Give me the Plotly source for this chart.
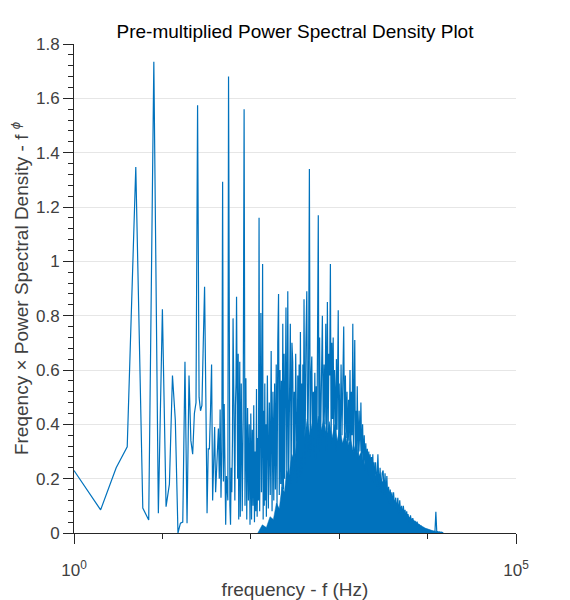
import plotly.graph_objects as go

# pre-multiplied PSD (f in Hz, value = f * phi)
freq_hz = [
    1, 2, 3, 4, 5, 6, 7, 8, 9, 10, 11, 12, 13, 14, 15, 16, 17, 18, 19, 20,
    21, 22, 23, 24, 25, 26, 27, 28, 29, 30, 31, 32, 33, 34, 35, 36, 37, 38, 39, 40,
    41, 42, 43, 44, 45, 46, 47, 48, 49, 50, 51, 52, 53, 54, 55, 56, 57, 58, 59, 60,
    61, 62, 63, 64, 65, 66, 67, 68, 69, 70, 71, 72, 73, 74, 75,
    76, 78, 80, 82, 84, 86, 88, 90, 92, 94, 96, 98,
    100, 102, 104, 106, 108, 110, 112, 114, 116, 118, 120, 122, 124, 126, 128, 130,
    132, 134, 136, 138, 140, 142, 144, 146, 148,
    150, 154, 158, 162, 166, 170, 174, 178, 182, 186, 190, 194, 198, 202, 206, 210,
    214, 218, 222, 226, 230, 234, 238, 242, 246,
    250, 256, 262, 268, 274, 280, 286, 292, 298, 304, 310, 316, 322, 328, 334, 340,
    346, 352, 358, 364, 370, 376, 382, 388, 394,
    400, 410, 420, 430, 440, 450, 460, 470, 480, 490, 500, 510, 520, 530, 540, 550,
    560, 570, 580, 590,
    600, 615, 630, 645, 660, 675, 690, 705, 720, 735, 750, 765, 780, 795, 810, 825,
    840, 855, 870, 885, 900, 915, 930, 945, 960, 975, 990,
    1000, 1025, 1050, 1075, 1100, 1125, 1150, 1175, 1200, 1225, 1250, 1275, 1300,
    1325, 1350, 1375, 1400, 1425, 1450, 1475, 1500, 1525, 1550, 1575,
    1600, 1640, 1680, 1720, 1760, 1800, 1840, 1880, 1920, 1960, 2000, 2040, 2080,
    2120, 2160, 2200, 2240, 2280, 2320, 2360, 2400, 2440, 2480,
    2500, 2580, 2660, 2740, 2820, 2900, 2980, 3060, 3140, 3220, 3300, 3380, 3460,
    3540, 3620, 3700, 3780, 3860, 3940,
    4000, 4120, 4240, 4360, 4480, 4600, 4720, 4840, 4960, 5080, 5200, 5320, 5440,
    5560, 5680, 5800, 5920,
    6000, 6200, 6400, 6600, 6800, 7000, 7200, 7400, 7600, 7800, 8000, 8200, 8400,
    8600, 8800, 9000, 9200, 9400, 9600, 9800,
    10000, 10300, 10600, 10900, 11200, 11500, 11800, 12100, 12400, 12700, 13000,
    13300, 13600, 13900, 14200, 14500, 14800, 15000,
]

psd_premult = [
    0.23, 0.085, 0.24, 0.317, 1.347, 0.092, 0.048, 1.735, 0.073, 0.824, 0.097, 0.18,
    0.58, 0.415, 0.0, 0.036, 0.04, 0.63, 0.036, 0.58,
    0.34, 0.29, 0.44, 0.48, 1.575, 0.5, 0.45, 0.47, 0.7, 0.906, 0.5, 0.073, 0.31, 0.31,
    0.45, 0.62, 0.12, 0.25, 0.39, 0.15,
    0.22, 0.30, 0.385, 0.20, 0.455, 0.13, 0.30, 1.293, 0.19, 0.475, 0.20, 0.03, 0.21,
    0.15, 0.12, 1.68, 0.24, 0.10, 0.03, 0.24,
    0.15, 0.34, 0.79, 0.48, 0.30, 0.12, 0.47, 0.55, 0.87, 0.31, 0.20, 0.66, 0.05, 0.35, 0.63,
    0.06, 0.55, 0.08, 0.42, 1.56, 0.10, 0.57, 0.05, 0.46, 0.12, 0.40, 0.03,
    0.44, 0.05, 0.38, 0.10, 0.47, 0.04, 0.30, 0.08, 0.53, 0.06, 0.35, 0.12, 1.16, 0.08,
    0.42, 0.81, 0.15, 0.36, 0.99, 0.05, 0.45, 0.10, 0.55, 0.12, 0.40,
    0.06, 0.58, 0.09, 0.48, 0.14, 0.67, 0.08, 0.52, 0.12, 0.55, 0.16, 0.62, 0.10, 0.70,
    0.88, 0.14, 0.60, 0.18, 0.56, 0.12, 0.77, 0.16, 0.66, 0.20, 0.58,
    0.83, 0.15, 0.89, 0.20, 0.60, 0.77, 0.18, 0.70, 0.63, 0.22, 0.52, 0.25, 0.66, 0.40,
    0.18, 0.58, 0.24, 0.62, 0.20, 0.74, 0.28, 0.55, 0.22, 0.62, 0.30,
    0.86, 0.25, 0.70, 0.89, 0.30, 0.55, 1.34, 0.28, 0.58, 0.65, 0.30, 0.52, 0.33, 0.59,
    0.27, 0.54, 0.35, 0.62, 1.17, 0.30,
    0.72, 0.32, 0.60, 0.80, 0.35, 0.62, 0.40, 0.77, 0.30, 0.85, 0.38, 0.66, 0.58, 0.99,
    0.33, 0.70, 0.42, 0.72, 0.35, 0.60, 0.52, 0.30, 0.64, 0.38, 0.58, 0.82, 0.34,
    0.55, 0.32, 0.62, 0.36, 0.55, 0.76, 0.33, 0.58, 0.35, 0.52, 0.30, 0.49, 0.34,
    0.60, 0.31, 0.52, 0.36, 0.77, 0.30, 0.55, 0.71, 0.28, 0.45, 0.30,
    0.54, 0.27, 0.45, 0.30, 0.48, 0.26, 0.40, 0.25, 0.36, 0.23, 0.33, 0.24, 0.31,
    0.22, 0.30, 0.21, 0.29, 0.20, 0.28, 0.19, 0.29, 0.20, 0.26,
    0.18, 0.26, 0.17, 0.29, 0.16, 0.24, 0.15, 0.22, 0.23, 0.14, 0.22, 0.13, 0.21, 0.12,
    0.17, 0.11, 0.16, 0.10, 0.15,
    0.10, 0.15, 0.09, 0.13, 0.08, 0.13, 0.07, 0.12, 0.07, 0.10, 0.06, 0.10, 0.06, 0.085,
    0.05, 0.08, 0.05,
    0.07, 0.04, 0.065, 0.035, 0.055, 0.03, 0.045, 0.025, 0.042, 0.02, 0.032, 0.015,
    0.028, 0.012, 0.022, 0.01, 0.018, 0.008, 0.014, 0.006,
    0.011, 0.004, 0.009, 0.003, 0.007, 0.002, 0.006, 0.002, 0.078, 0.003, 0.005, 0.002,
    0.004, 0.001, 0.003, 0.001, 0.002, 0.001,
]

# where the bins are so dense the curve reads as a solid band (ragged top)
band_hz = [120, 135, 150, 165, 180, 195, 210, 225, 240, 255, 270, 290, 310,
           330, 355, 380, 405, 435, 465, 500, 540, 580, 625, 670, 720, 775, 830,
           890, 950, 1020, 1090, 1170, 1250, 1340, 1440, 1550, 1660, 1780, 1900,
           2050, 2200, 2380, 2550, 2750, 2950, 3200, 3450, 3750, 4000, 4400, 4800,
           5300, 5800, 6400, 7000, 7700, 8500, 9400, 10400, 11500, 12800, 14000, 15000]
band_top = [0.0, 0.03, 0.02, 0.06, 0.05, 0.11, 0.09, 0.17, 0.15, 0.23, 0.21, 0.29,
            0.27, 0.33, 0.32, 0.40, 0.35, 0.42, 0.36, 0.41, 0.37, 0.43, 0.38, 0.42,
            0.36, 0.41, 0.35, 0.40, 0.34, 0.39, 0.33, 0.37, 0.32, 0.35, 0.30, 0.33,
            0.28, 0.30, 0.25, 0.27, 0.23, 0.25, 0.21, 0.22, 0.19, 0.19, 0.16, 0.15,
            0.13, 0.11, 0.095, 0.08, 0.065, 0.055, 0.045, 0.035, 0.026, 0.018, 0.012,
            0.008, 0.005, 0.003, 0.002, 0.0]

BLUE = "#0072BD"
AXIS = "#262626"
TXT = "#404040"
FONT = "Liberation Sans"

fig = go.Figure()
fig.add_trace(go.Scatter(x=band_hz, y=band_top, mode="lines", fill="tozeroy",
                         fillcolor=BLUE, line=dict(color=BLUE, width=0.5),
                         hoverinfo="skip"))
fig.add_trace(go.Scatter(x=freq_hz, y=psd_premult, mode="lines",
                         line=dict(color=BLUE, width=1.2)))

# page body has an 8px margin, so the figure is a bit smaller than the window
fig.update_layout(
    width=562, height=592,
    margin=dict(l=66, r=54, t=36, b=67),
    paper_bgcolor="white", plot_bgcolor="white",
    showlegend=False,
    font=dict(family=FONT, color=TXT),
    title=dict(text="Pre-multiplied Power Spectral Density Plot",
               font=dict(family=FONT, size=19, color="black"),
               x=0.5, xref="paper", xanchor="center",
               y=1 - 23 / 592, yref="container", yanchor="middle"),
)

fig.update_xaxes(
    type="log", range=[0, 5], automargin=False,
    showline=True, linecolor=AXIS, linewidth=1,
    showgrid=False, zeroline=False,
    ticks="outside", ticklen=10, tickwidth=1, tickcolor=AXIS,
    tickvals=[1, 100000], ticktext=["10<sup>0</sup>", "10<sup>5</sup>"],
    tickfont=dict(size=17, color=TXT), ticklabelstandoff=12,
    minor=dict(tickvals=[10, 100, 1000, 10000], ticks="outside", ticklen=5,
               tickcolor=AXIS, showgrid=False),
    title=dict(text="frequency - f (Hz)", font=dict(size=19, color=TXT), standoff=4),
)

fig.update_yaxes(
    range=[0, 1.8], tick0=0, dtick=0.2, automargin=False,
    showline=True, linecolor=AXIS, linewidth=1,
    showgrid=True, gridcolor="#e6e6e6", gridwidth=1, zeroline=False,
    ticks="outside", ticklen=10, tickwidth=1, tickcolor=AXIS,
    tickfont=dict(size=17, color=TXT),
    minor=dict(dtick=0.04, ticks="outside", ticklen=5, tickcolor=AXIS, showgrid=False),
    title=dict(text="Freqency × Power Spectral Density - f <sup><i>ϕ</i></sup>",
               font=dict(size=19, color=TXT), standoff=12),
)

fig.write_html("out.html")
